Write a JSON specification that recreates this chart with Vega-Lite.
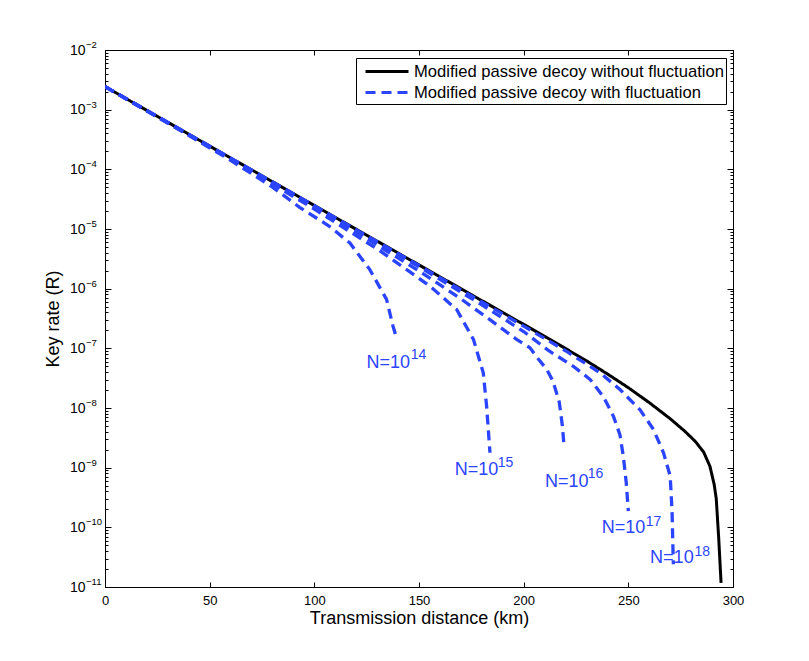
{
  "$schema": "https://vega.github.io/schema/vega-lite/v6.json",
  "width": 628,
  "height": 537,
  "autosize": {"type": "none"},
  "padding": {"left": 105, "top": 50, "right": 76, "bottom": 74},
  "background": "white",
  "config": {
    "font": "Liberation Sans",
    "view": {"stroke": "black", "strokeWidth": 1},
    "axis": {"grid": false, "domainColor": "black", "tickColor": "black", "labelColor": "black", "labelFontSize": 13, "titleFontSize": 18, "titleFontWeight": "normal", "titleColor": "black", "labelFont": "Liberation Sans", "titleFont": "Liberation Sans"},
    "legend": {"orient": "none", "legendX": 251, "legendY": 8, "strokeColor": "black", "fillColor": "white", "padding": 2, "symbolType": "M-0.4,0H3.9", "symbolSize": 400, "symbolStrokeWidth": 3, "labelFontSize": 16.6, "labelColor": "black", "labelFont": "Liberation Sans", "labelOffset": 33, "labelLimit": 0, "rowPadding": 0}
  },
  "datasets": {
    "curves": [
      {"series": "Modified passive decoy without fluctuation", "curve": "black", "x": 0, "y": 2.432e-3},
      {"series": "Modified passive decoy without fluctuation", "curve": "black", "x": 25, "y": 7.727e-4},
      {"series": "Modified passive decoy without fluctuation", "curve": "black", "x": 50, "y": 2.455e-4},
      {"series": "Modified passive decoy without fluctuation", "curve": "black", "x": 75, "y": 7.80e-5},
      {"series": "Modified passive decoy without fluctuation", "curve": "black", "x": 100, "y": 2.477e-5},
      {"series": "Modified passive decoy without fluctuation", "curve": "black", "x": 125, "y": 7.87e-6},
      {"series": "Modified passive decoy without fluctuation", "curve": "black", "x": 150, "y": 2.50e-6},
      {"series": "Modified passive decoy without fluctuation", "curve": "black", "x": 175, "y": 7.94e-7},
      {"series": "Modified passive decoy without fluctuation", "curve": "black", "x": 200, "y": 2.52e-7},
      {"series": "Modified passive decoy without fluctuation", "curve": "black", "x": 215, "y": 1.259e-7},
      {"series": "Modified passive decoy without fluctuation", "curve": "black", "x": 230, "y": 6.17e-8},
      {"series": "Modified passive decoy without fluctuation", "curve": "black", "x": 240, "y": 3.72e-8},
      {"series": "Modified passive decoy without fluctuation", "curve": "black", "x": 250, "y": 2.19e-8},
      {"series": "Modified passive decoy without fluctuation", "curve": "black", "x": 260, "y": 1.23e-8},
      {"series": "Modified passive decoy without fluctuation", "curve": "black", "x": 270, "y": 6.61e-9},
      {"series": "Modified passive decoy without fluctuation", "curve": "black", "x": 277, "y": 4.07e-9},
      {"series": "Modified passive decoy without fluctuation", "curve": "black", "x": 282, "y": 2.75e-9},
      {"series": "Modified passive decoy without fluctuation", "curve": "black", "x": 286, "y": 1.82e-9},
      {"series": "Modified passive decoy without fluctuation", "curve": "black", "x": 289, "y": 1.05e-9},
      {"series": "Modified passive decoy without fluctuation", "curve": "black", "x": 291, "y": 5.25e-10},
      {"series": "Modified passive decoy without fluctuation", "curve": "black", "x": 292, "y": 3.02e-10},
      {"series": "Modified passive decoy without fluctuation", "curve": "black", "x": 293.2, "y": 6.31e-11},
      {"series": "Modified passive decoy without fluctuation", "curve": "black", "x": 294.3, "y": 1.17e-11},

      {"series": "Modified passive decoy with fluctuation", "curve": "N14", "x": 0, "y": 2.432e-3},
      {"series": "Modified passive decoy with fluctuation", "curve": "N14", "x": 40, "y": 3.707e-4},
      {"series": "Modified passive decoy with fluctuation", "curve": "N14", "x": 60, "y": 1.416e-4},
      {"series": "Modified passive decoy with fluctuation", "curve": "N14", "x": 80, "y": 5.04e-5},
      {"series": "Modified passive decoy with fluctuation", "curve": "N14", "x": 93, "y": 2.307e-5},
      {"series": "Modified passive decoy with fluctuation", "curve": "N14", "x": 107, "y": 1.122e-5},
      {"series": "Modified passive decoy with fluctuation", "curve": "N14", "x": 117, "y": 5.82e-6},
      {"series": "Modified passive decoy with fluctuation", "curve": "N14", "x": 126.5, "y": 2.089e-6},
      {"series": "Modified passive decoy with fluctuation", "curve": "N14", "x": 134.5, "y": 6.61e-7},
      {"series": "Modified passive decoy with fluctuation", "curve": "N14", "x": 137.6, "y": 2.344e-7},
      {"series": "Modified passive decoy with fluctuation", "curve": "N14", "x": 139.3, "y": 1.479e-7},

      {"series": "Modified passive decoy with fluctuation", "curve": "N15", "x": 0, "y": 2.432e-3},
      {"series": "Modified passive decoy with fluctuation", "curve": "N15", "x": 60, "y": 1.483e-4},
      {"series": "Modified passive decoy with fluctuation", "curve": "N15", "x": 100, "y": 2.158e-5},
      {"series": "Modified passive decoy with fluctuation", "curve": "N15", "x": 130, "y": 4.63e-6},
      {"series": "Modified passive decoy with fluctuation", "curve": "N15", "x": 145, "y": 1.986e-6},
      {"series": "Modified passive decoy with fluctuation", "curve": "N15", "x": 155.3, "y": 1.096e-6},
      {"series": "Modified passive decoy with fluctuation", "curve": "N15", "x": 168, "y": 4.47e-7},
      {"series": "Modified passive decoy with fluctuation", "curve": "N15", "x": 176, "y": 1.413e-7},
      {"series": "Modified passive decoy with fluctuation", "curve": "N15", "x": 180.7, "y": 3.89e-8},
      {"series": "Modified passive decoy with fluctuation", "curve": "N15", "x": 182.3, "y": 1.072e-8},
      {"series": "Modified passive decoy with fluctuation", "curve": "N15", "x": 183.9, "y": 1.778e-9},

      {"series": "Modified passive decoy with fluctuation", "curve": "N16", "x": 0, "y": 2.432e-3},
      {"series": "Modified passive decoy with fluctuation", "curve": "N16", "x": 80, "y": 5.92e-5},
      {"series": "Modified passive decoy with fluctuation", "curve": "N16", "x": 120, "y": 8.83e-6},
      {"series": "Modified passive decoy with fluctuation", "curve": "N16", "x": 150, "y": 1.986e-6},
      {"series": "Modified passive decoy with fluctuation", "curve": "N16", "x": 170, "y": 6.76e-7},
      {"series": "Modified passive decoy with fluctuation", "curve": "N16", "x": 185, "y": 2.825e-7},
      {"series": "Modified passive decoy with fluctuation", "curve": "N16", "x": 197, "y": 1.38e-7},
      {"series": "Modified passive decoy with fluctuation", "curve": "N16", "x": 203, "y": 1.023e-7},
      {"series": "Modified passive decoy with fluctuation", "curve": "N16", "x": 207, "y": 6.61e-8},
      {"series": "Modified passive decoy with fluctuation", "curve": "N16", "x": 211, "y": 4.47e-8},
      {"series": "Modified passive decoy with fluctuation", "curve": "N16", "x": 214, "y": 2.818e-8},
      {"series": "Modified passive decoy with fluctuation", "curve": "N16", "x": 217, "y": 1.259e-8},
      {"series": "Modified passive decoy with fluctuation", "curve": "N16", "x": 218.5, "y": 5.01e-9},
      {"series": "Modified passive decoy with fluctuation", "curve": "N16", "x": 219.3, "y": 2.239e-9},

      {"series": "Modified passive decoy with fluctuation", "curve": "N17", "x": 0, "y": 2.432e-3},
      {"series": "Modified passive decoy with fluctuation", "curve": "N17", "x": 100, "y": 2.42e-5},
      {"series": "Modified passive decoy with fluctuation", "curve": "N17", "x": 150, "y": 2.333e-6},
      {"series": "Modified passive decoy with fluctuation", "curve": "N17", "x": 180, "y": 5.37e-7},
      {"series": "Modified passive decoy with fluctuation", "curve": "N17", "x": 200, "y": 1.914e-7},
      {"series": "Modified passive decoy with fluctuation", "curve": "N17", "x": 212, "y": 9.12e-8},
      {"series": "Modified passive decoy with fluctuation", "curve": "N17", "x": 223.7, "y": 5.01e-8},
      {"series": "Modified passive decoy with fluctuation", "curve": "N17", "x": 231.7, "y": 3.02e-8},
      {"series": "Modified passive decoy with fluctuation", "curve": "N17", "x": 238.1, "y": 1.549e-8},
      {"series": "Modified passive decoy with fluctuation", "curve": "N17", "x": 242.9, "y": 7.24e-9},
      {"series": "Modified passive decoy with fluctuation", "curve": "N17", "x": 246, "y": 3.55e-9},
      {"series": "Modified passive decoy with fluctuation", "curve": "N17", "x": 247.6, "y": 1.549e-9},
      {"series": "Modified passive decoy with fluctuation", "curve": "N17", "x": 249, "y": 5.62e-10},
      {"series": "Modified passive decoy with fluctuation", "curve": "N17", "x": 250, "y": 1.862e-10},

      {"series": "Modified passive decoy with fluctuation", "curve": "N18", "x": 0, "y": 2.432e-3},
      {"series": "Modified passive decoy with fluctuation", "curve": "N18", "x": 100, "y": 2.449e-5},
      {"series": "Modified passive decoy with fluctuation", "curve": "N18", "x": 150, "y": 2.443e-6},
      {"series": "Modified passive decoy with fluctuation", "curve": "N18", "x": 200, "y": 2.355e-7},
      {"series": "Modified passive decoy with fluctuation", "curve": "N18", "x": 220, "y": 9.12e-8},
      {"series": "Modified passive decoy with fluctuation", "curve": "N18", "x": 236.5, "y": 3.89e-8},
      {"series": "Modified passive decoy with fluctuation", "curve": "N18", "x": 246, "y": 2.042e-8},
      {"series": "Modified passive decoy with fluctuation", "curve": "N18", "x": 255.6, "y": 9.33e-9},
      {"series": "Modified passive decoy with fluctuation", "curve": "N18", "x": 262, "y": 4.37e-9},
      {"series": "Modified passive decoy with fluctuation", "curve": "N18", "x": 266.8, "y": 1.778e-9},
      {"series": "Modified passive decoy with fluctuation", "curve": "N18", "x": 270, "y": 7.24e-10},
      {"series": "Modified passive decoy with fluctuation", "curve": "N18", "x": 270.9, "y": 1.778e-10},
      {"series": "Modified passive decoy with fluctuation", "curve": "N18", "x": 271.5, "y": 2.399e-11}
    ],
    "labels": [
      {"exp": "14", "bx": 124.9, "by": 5.78e-8, "ex": 146.0, "ey": 7.85e-8},
      {"exp": "15", "bx": 167.1, "by": 9.16e-10, "ex": 187.6, "ey": 1.2e-9},
      {"exp": "16", "bx": 210.2, "by": 5.78e-10, "ex": 230.6, "ey": 7.7e-10},
      {"exp": "17", "bx": 237.3, "by": 9.6e-11, "ex": 258.3, "ey": 1.21e-10},
      {"exp": "18", "bx": 260.4, "by": 3.03e-11, "ex": 281.6, "ey": 3.82e-11}
    ],
    "decades": [
      {"v": 1e-11, "e": "−11"}, {"v": 1e-10, "e": "−10"}, {"v": 1e-9, "e": "−9"}, {"v": 1e-8, "e": "−8"},
      {"v": 1e-7, "e": "−7"}, {"v": 1e-6, "e": "−6"}, {"v": 1e-5, "e": "−5"}, {"v": 1e-4, "e": "−4"},
      {"v": 1e-3, "e": "−3"}, {"v": 1e-2, "e": "−2"}
    ]
  },
  "resolve": {"axis": {"x": "independent", "y": "independent"}},
  "layer": [
    {
      "data": {"name": "curves"},
      "transform": [{"filter": "datum.curve === 'black'"}],
      "mark": {"type": "line", "strokeWidth": 3, "clip": true},
      "encoding": {
        "x": {"field": "x", "type": "quantitative", "scale": {"domain": [0, 300], "nice": false},
          "axis": {"orient": "bottom", "title": "Transmission distance (km)", "values": [0, 50, 100, 150, 200, 250, 300], "tickSize": -5, "labelPadding": 12, "labelFlush": false, "titleY": 31, "titleBaseline": "middle"}},
        "y": {"field": "y", "type": "quantitative", "scale": {"type": "log", "domain": [1e-11, 1e-2], "nice": false},
          "axis": {"orient": "left", "title": "Key rate (R)", "titleX": -52, "titleY": 268.5, "titleBaseline": "middle",
            "values": [1e-11,2e-11,3e-11,4e-11,5e-11,6e-11,7e-11,8e-11,9e-11,1e-10,2e-10,3e-10,4e-10,5e-10,6e-10,7e-10,8e-10,9e-10,1e-9,2e-9,3e-9,4e-9,5e-9,6e-9,7e-9,8e-9,9e-9,1e-8,2e-8,3e-8,4e-8,5e-8,6e-8,7e-8,8e-8,9e-8,1e-7,2e-7,3e-7,4e-7,5e-7,6e-7,7e-7,8e-7,9e-7,1e-6,2e-6,3e-6,4e-6,5e-6,6e-6,7e-6,8e-6,9e-6,1e-5,2e-5,3e-5,4e-5,5e-5,6e-5,7e-5,8e-5,9e-5,1e-4,2e-4,3e-4,4e-4,5e-4,6e-4,7e-4,8e-4,9e-4,1e-3,2e-3,3e-3,4e-3,5e-3,6e-3,7e-3,8e-3,9e-3,1e-2],
            "labelExpr": "abs(log(datum.value)/LN10 - round(log(datum.value)/LN10)) < 0.001 ? '10' : ''",
            "labelFontSize": 14,
            "tickSize": {"condition": {"test": "abs(log(datum.value)/LN10 - round(log(datum.value)/LN10)) < 0.001", "value": -6}, "value": -3},
            "labelPadding": 26, "labelOverlap": false, "labelFlush": false}},
        "color": {"field": "series", "type": "nominal", "scale": {"domain": ["Modified passive decoy without fluctuation", "Modified passive decoy with fluctuation"], "range": ["#000000", "#2b44ff"]}, "legend": {"title": null}},
        "strokeDash": {"field": "series", "type": "nominal", "scale": {"domain": ["Modified passive decoy without fluctuation", "Modified passive decoy with fluctuation"], "range": [[1, 0], [10, 6]]}, "legend": {"title": null}}
      }
    },
    {
      "data": {"name": "curves"},
      "transform": [{"filter": "datum.curve !== 'black'"}],
      "mark": {"type": "line", "strokeWidth": 3.3, "clip": true},
      "encoding": {
        "x": {"field": "x", "type": "quantitative", "scale": {"domain": [0, 300], "nice": false},
          "axis": {"orient": "top", "title": null, "labels": false, "values": [0, 50, 100, 150, 200, 250, 300], "tickSize": -5}},
        "y": {"field": "y", "type": "quantitative", "scale": {"type": "log", "domain": [1e-11, 1e-2], "nice": false},
          "axis": {"orient": "right", "title": null, "labels": false,
            "values": [1e-11,2e-11,3e-11,4e-11,5e-11,6e-11,7e-11,8e-11,9e-11,1e-10,2e-10,3e-10,4e-10,5e-10,6e-10,7e-10,8e-10,9e-10,1e-9,2e-9,3e-9,4e-9,5e-9,6e-9,7e-9,8e-9,9e-9,1e-8,2e-8,3e-8,4e-8,5e-8,6e-8,7e-8,8e-8,9e-8,1e-7,2e-7,3e-7,4e-7,5e-7,6e-7,7e-7,8e-7,9e-7,1e-6,2e-6,3e-6,4e-6,5e-6,6e-6,7e-6,8e-6,9e-6,1e-5,2e-5,3e-5,4e-5,5e-5,6e-5,7e-5,8e-5,9e-5,1e-4,2e-4,3e-4,4e-4,5e-4,6e-4,7e-4,8e-4,9e-4,1e-3,2e-3,3e-3,4e-3,5e-3,6e-3,7e-3,8e-3,9e-3,1e-2],
            "tickSize": {"condition": {"test": "abs(log(datum.value)/LN10 - round(log(datum.value)/LN10)) < 0.001", "value": -6}, "value": -3}}},
        "detail": {"field": "curve", "type": "nominal"},
        "color": {"field": "series", "type": "nominal", "scale": {"domain": ["Modified passive decoy without fluctuation", "Modified passive decoy with fluctuation"], "range": ["#000000", "#2b44ff"]}, "legend": {"title": null}},
        "strokeDash": {"field": "series", "type": "nominal", "scale": {"domain": ["Modified passive decoy without fluctuation", "Modified passive decoy with fluctuation"], "range": [[1, 0], [10, 6]]}, "legend": {"title": null}}
      }
    },
    {
      "data": {"name": "labels"},
      "mark": {"type": "text", "text": "N=10", "align": "left", "baseline": "middle", "fontSize": 18, "color": "#2b44ff"},
      "encoding": {
        "x": {"field": "bx", "type": "quantitative", "axis": null},
        "y": {"field": "by", "type": "quantitative", "axis": null}
      }
    },
    {
      "data": {"name": "labels"},
      "mark": {"type": "text", "align": "left", "baseline": "middle", "fontSize": 14, "color": "#2b44ff"},
      "encoding": {
        "x": {"field": "ex", "type": "quantitative", "axis": null},
        "y": {"field": "ey", "type": "quantitative", "axis": null},
        "text": {"field": "exp", "type": "nominal"}
      }
    },
    {
      "data": {"name": "decades"},
      "mark": {"type": "text", "align": "left", "baseline": "middle", "fontSize": 9.5, "color": "black", "dx": -19, "dy": -5},
      "encoding": {
        "x": {"datum": 0, "type": "quantitative", "axis": null},
        "y": {"field": "v", "type": "quantitative", "axis": null},
        "text": {"field": "e", "type": "nominal"}
      }
    }
  ]
}
